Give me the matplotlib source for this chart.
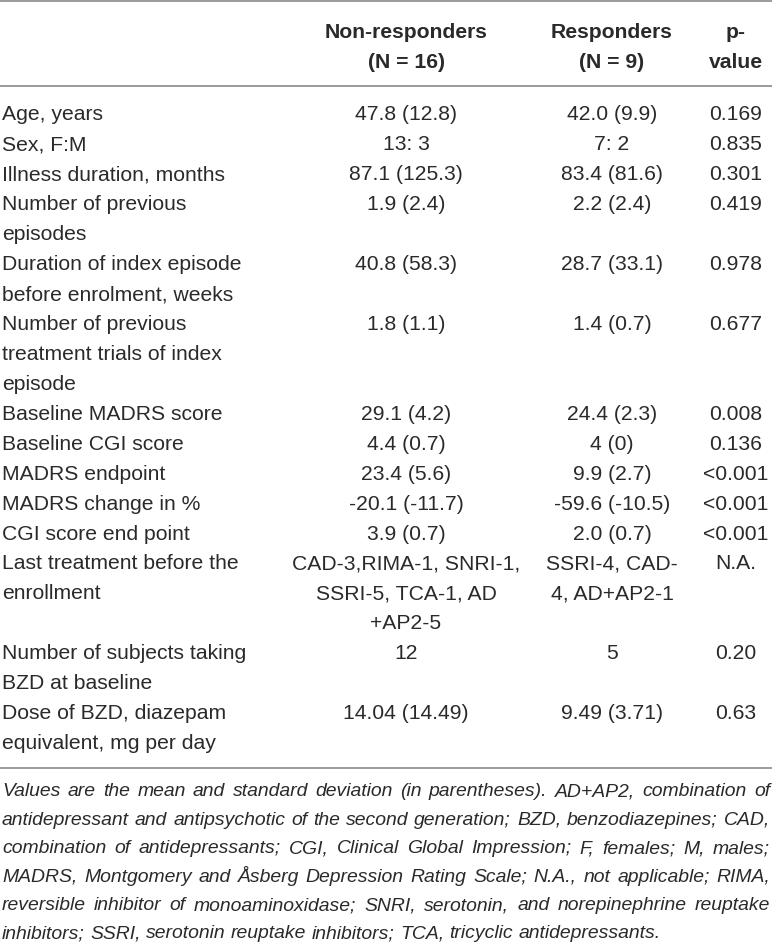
import matplotlib
matplotlib.use("Agg")
import matplotlib.pyplot as plt
from matplotlib import font_manager

# table contents
headers = ["", "Non-responders\n(N = 16)", "Responders\n(N = 9)", "p-\nvalue"]

labels = ["Age, years", "Sex, F:M", "Illness duration, months",
          "Number of previous\nepisodes",
          "Duration of index episode\nbefore enrolment, weeks",
          "Number of previous\ntreatment trials of index\nepisode",
          "Baseline MADRS score", "Baseline CGI score", "MADRS endpoint",
          "MADRS change in %", "CGI score end point",
          "Last treatment before the\nenrollment",
          "Number of subjects taking\nBZD at baseline",
          "Dose of BZD, diazepam\nequivalent, mg per day"]

non_resp = ["47.8 (12.8)", "13: 3", "87.1 (125.3)", "1.9 (2.4)", "40.8 (58.3)",
            "1.8 (1.1)", "29.1 (4.2)", "4.4 (0.7)", "23.4 (5.6)", "-20.1 (-11.7)",
            "3.9 (0.7)", "CAD-3,RIMA-1, SNRI-1,\nSSRI-5, TCA-1, AD\n+AP2-5", "12",
            "14.04 (14.49)"]

resp = ["42.0 (9.9)", "7: 2", "83.4 (81.6)", "2.2 (2.4)", "28.7 (33.1)",
        "1.4 (0.7)", "24.4 (2.3)", "4 (0)", "9.9 (2.7)", "-59.6 (-10.5)",
        "2.0 (0.7)", "SSRI-4, CAD-\n4, AD+AP2-1", "5", "9.49 (3.71)"]

p_values = ["0.169", "0.835", "0.301", "0.419", "0.978", "0.677", "0.008",
            "0.136", "<0.001", "<0.001", "<0.001", "N.A.", "0.20", "0.63"]

footnote = ["Values are the mean and standard deviation (in parentheses). AD+AP2, combination of",
            "antidepressant and antipsychotic of the second generation; BZD, benzodiazepines; CAD,",
            "combination of antidepressants; CGI, Clinical Global Impression; F, females; M, males;",
            "MADRS, Montgomery and \u00c5sberg Depression Rating Scale; N.A., not applicable; RIMA,",
            "reversible inhibitor of monoaminoxidase; SNRI, serotonin, and norepinephrine reuptake",
            "inhibitors; SSRI, serotonin reuptake inhibitors; TCA, tricyclic antidepressants."]

W, H = 772, 943
TXT = "#2a2a2a"
RULE = "#9a9a9a"
FAM = "Liberation Sans"
names = {f.name for f in font_manager.fontManager.ttflist}
FOOT_FAM = "Liberation Sans Narrow" if "Liberation Sans Narrow" in names else FAM

fig = plt.figure(figsize=(W / 100, H / 100), dpi=100)
ax = fig.add_axes([0, 0, 1, 1])
ax.set_xlim(0, W)
ax.set_ylim(H, 0)
ax.axis("off")

col_x = [2, 406, 612, 736]
pitch = 29.93
fs = 15.2

# rules
for y in [1.2, 86, 767.5]:
    ax.plot([0, W], [y, y], color=RULE, lw=1.4, solid_capstyle="butt")

# header
for j, h in enumerate(headers):
    for k, line in enumerate(h.split("\n")):
        ax.text(col_x[j], 38.5 + k * 30, line, ha="center", va="baseline",
                fontsize=fs, fontweight="bold", family=FAM, color=TXT)

# body
base = 120.5
for i in range(len(labels)):
    cells = [labels[i], non_resp[i], resp[i], p_values[i]]
    nlines = max(c.count("\n") + 1 for c in cells)
    for j, c in enumerate(cells):
        for k, line in enumerate(c.split("\n")):
            ax.text(col_x[j], base + k * pitch, line,
                    ha="left" if j == 0 else "center", va="baseline",
                    fontsize=fs, family=FAM, color=TXT)
    base += nlines * pitch

# footnote, justified between x=2 and x=770
renderer = fig.canvas.get_renderer()


def width_of(s, size):
    t = ax.text(0, 0, s, fontsize=size, family=FOOT_FAM, style="italic")
    w = t.get_window_extent(renderer).width
    t.remove()
    return w


ffs = 14.6
widest = max(width_of(l, ffs) for l in footnote)
if widest > 764:
    ffs *= 764 / widest

x0, x1 = 2, 770
fy = 796.5
for n, line in enumerate(footnote):
    words = line.split(" ")
    ws = [width_of(w, ffs) for w in words]
    if n < len(footnote) - 1:
        gap = (x1 - x0 - sum(ws)) / (len(words) - 1)
    else:
        gap = width_of("a b", ffs) - width_of("ab", ffs)
    x = x0
    for w, wd in zip(words, ws):
        ax.text(x, fy, w, ha="left", va="baseline", fontsize=ffs,
                family=FOOT_FAM, style="italic", color=TXT)
        x += wd + gap
    fy += 28.4

fig.savefig("out.png", dpi=100, facecolor="white")
